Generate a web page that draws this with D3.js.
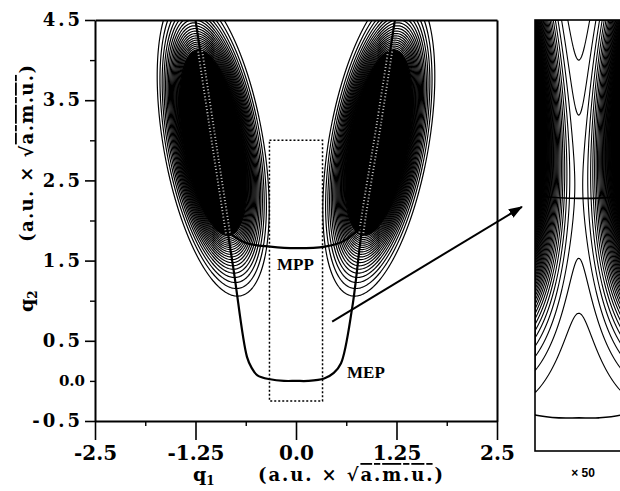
<!DOCTYPE html>
<html>
<head>
<meta charset="utf-8">
<script src="https://cdn.jsdelivr.net/npm/d3@7"></script>
<style>
body { margin: 0; background: #fff; }
svg { display: block; }
.serif { font-family: "DejaVu Serif", serif; font-weight: bold; fill: #000; }
.times { font-family: "Liberation Serif", "Times New Roman", serif; font-weight: bold; fill: #000; }
</style>
</head>
<body>
<svg class="figure" width="620" height="491"></svg>
<script>
var yTicks = [4.5, 3.5, 2.5, 1.5, 0.5, -0.5];
var yTickText = ["4.5", "3.5", "2.5", "1.5", "0.5", "-0.5"];
var yZero = [0.0];
var yMinor = [4.0, 3.0, 2.0, 1.0];
var xTicks = [-2.5, -1.25, 0.0, 1.25, 2.5];
var xTickText = ["-2.5", "-1.25", "0.0", "1.25", "2.5"];
var xMinor = [-1.875, -0.625, 0.625, 1.875];

// the two tilted wells: centre, tilt in degrees, width across and along
var lobeQ1 = [-1.03, 1.03];
var lobeQ2 = [2.97, 2.97];
var lobeTilt = [10, -10];
var lobeWidth = [0.24, 0.24];
var lobeLength = [0.752, 0.752];

var levelStart = 0.036;
var levelStep = 0.0136;
var coreLevel = 0.3;
var insetStep = 0.0005;

// paths
var mepQ1 = [-1.25, -1.02, -0.78, -0.61, -0.55, -0.48, -0.32, -0.15, 0.0, 0.15, 0.35, 0.47, 0.56, 0.70, 0.83, 1.03, 1.23];
var mepQ2 = [4.5, 2.97, 1.41, 0.30, 0.16, 0.07, 0.02, 0.0, 0.0, 0.0, 0.03, 0.10, 0.22, 0.92, 1.97, 3.2, 4.5];
var mppQ1 = [-0.82, -0.62, -0.32, 0.0, 0.36, 0.585, 0.82];
var mppQ2 = [1.84, 1.72, 1.675, 1.655, 1.675, 1.74, 1.93];

var boxQ1 = [-0.33, 0.33];
var boxQ2 = [-0.25, 3.0];
var arrowQ1 = [0.45, 2.81];
var arrowQ2 = [0.74, 2.17];

var svg = d3.select("svg.figure");

var x = d3.scaleLinear().domain([-2.5, 2.5]).range([95, 497]);
var y = d3.scaleLinear().domain([-0.5, 4.5]).range([421, 20]);

var insetTop = 20, insetBottom = 451, insetLeft = 535;
var k = (insetBottom - insetTop) / (boxQ2[1] - boxQ2[0]);
var xi = d3.scaleLinear().domain(boxQ1).range([insetLeft, insetLeft + k * (boxQ1[1] - boxQ1[0])]);
var yi = d3.scaleLinear().domain(boxQ2).range([insetBottom, insetTop]);

function density(q1, q2) {
  var s = 0;
  for (var i = 0; i < lobeQ1.length; i++) {
    var t = lobeTilt[i] * Math.PI / 180;
    var dx = q1 - lobeQ1[i];
    var dy = q2 - lobeQ2[i];
    var u = (dx * Math.cos(t) + dy * Math.sin(t)) / lobeWidth[i];
    var v = (dx * Math.sin(t) - dy * Math.cos(t)) / lobeLength[i];
    s += Math.exp(-(u * u + v * v) / 2);
  }
  return s;
}

function gridValues(xs, ys) {
  var x0 = xs.range()[0], y0 = ys.range()[1];
  var n = Math.ceil(xs.range()[1] - x0), m = Math.ceil(ys.range()[0] - y0);
  var values = new Float64Array(n * m);
  for (var j = 0; j < m; j++) {
    for (var i = 0; i < n; i++) {
      values[j * n + i] = density(xs.invert(x0 + i + 0.5), ys.invert(y0 + j + 0.5));
    }
  }
  return {n: n, m: m, x0: x0, y0: y0, values: values};
}

function contourLayer(g, grid, thresholds, fill, width) {
  var contours = d3.contours().size([grid.n, grid.m]).thresholds(thresholds)(grid.values);
  g.append("g")
  .attr("transform", "translate(" + grid.x0 + "," + grid.y0 + ")")
  .selectAll("path")
  .data(contours)
  .enter()
  .append("path")
  .attr("d", d3.geoPath())
  .attr("fill", fill)
  .attr("stroke", "#000")
  .attr("stroke-width", width);
  return contours;
}

var defs = svg.append("defs");
defs.append("clipPath").attr("id", "plotClip")
.append("rect")
.attr("x", x(-2.5)).attr("y", y(4.5))
.attr("width", x(2.5) - x(-2.5)).attr("height", y(-0.5) - y(4.5));
defs.append("clipPath").attr("id", "insetClip")
.append("rect")
.attr("x", xi(boxQ1[0])).attr("y", yi(boxQ2[1]))
.attr("width", xi(boxQ1[1]) - xi(boxQ1[0])).attr("height", yi(boxQ2[0]) - yi(boxQ2[1]));
defs.append("marker")
.attr("id", "arrowHead")
.attr("markerUnits", "userSpaceOnUse")
.attr("markerWidth", 14).attr("markerHeight", 10)
.attr("refX", 13).attr("refY", 5)
.attr("orient", "auto")
.append("path")
.attr("d", "M0,0L14,5L0,10Z")
.attr("fill", "#000");

// main contour map
var plot = svg.append("g").attr("clip-path", "url(#plotClip)");
var mainGrid = gridValues(x, y);
contourLayer(plot, mainGrid, d3.range(levelStart, coreLevel, levelStep), "none", 1.2);
var core = contourLayer(plot, mainGrid, [coreLevel], "#000", 1.2);

defs.append("clipPath").attr("id", "coreClip")
.append("path")
.attr("transform", "translate(" + mainGrid.x0 + "," + mainGrid.y0 + ")")
.attr("d", d3.geoPath()(core[0]));

var line = d3.line()
.x(function(d) { return x(d[0]); })
.y(function(d) { return y(d[1]); })
.curve(d3.curveCatmullRom);

// hatched light streak where the path crosses the dense core
plot.append("g").attr("clip-path", "url(#coreClip)")
.append("path")
.attr("d", line(d3.zip(mepQ1, mepQ2)))
.attr("fill", "none").attr("stroke", "#fff").attr("stroke-width", 6)
.attr("stroke-opacity", 0.75)
.attr("stroke-dasharray", "1,2.2");

plot.append("path")
.attr("d", line(d3.zip(mepQ1, mepQ2)))
.attr("fill", "none").attr("stroke", "#000").attr("stroke-width", 2.2);
plot.append("path")
.attr("d", line(d3.zip(mppQ1, mppQ2)))
.attr("fill", "none").attr("stroke", "#000").attr("stroke-width", 2.2);

svg.append("rect")
.attr("x", x(boxQ1[0])).attr("y", y(boxQ2[1]))
.attr("width", x(boxQ1[1]) - x(boxQ1[0])).attr("height", y(boxQ2[0]) - y(boxQ2[1]))
.attr("fill", "none").attr("stroke", "#000")
.attr("stroke-width", 1.5).attr("stroke-dasharray", "2,2");

// axes and frame
function styleAxis(g, size) {
  g.select(".domain").attr("stroke-width", 2);
  g.selectAll(".tick line").attr("stroke-width", 1.6);
  g.selectAll("text").attr("class", "serif").attr("font-size", size).attr("font-family", null);
}

svg.append("g")
.attr("transform", "translate(0," + y(-0.5) + ")")
.call(d3.axisBottom(x).tickValues(xTicks).tickSize(19).tickSizeOuter(0).tickPadding(6)
  .tickFormat(function(d, i) { return xTickText[i]; }))
.call(styleAxis, 20);

svg.append("g")
.attr("transform", "translate(0," + y(-0.5) + ")")
.call(d3.axisBottom(x).tickValues(xMinor).tickSize(5).tickFormat(""))
.call(function(g) { g.select(".domain").remove(); g.selectAll(".tick line").attr("stroke-width", 1.4); });

svg.append("g")
.attr("transform", "translate(" + x(-2.5) + ",0)")
.call(d3.axisLeft(y).tickValues(yTicks).tickSize(10).tickSizeOuter(0).tickPadding(2)
  .tickFormat(function(d, i) { return yTickText[i]; }))
.call(styleAxis, 18)
.call(function(g) { g.selectAll("text").attr("letter-spacing", 3); });

svg.append("g")
.attr("transform", "translate(" + x(-2.5) + ",0)")
.call(d3.axisLeft(y).tickValues(yZero).tickSize(5).tickPadding(5).tickFormat(function() { return "0.0"; }))
.call(function(g) {
  g.select(".domain").remove();
  g.selectAll(".tick line").attr("stroke-width", 1.4);
  g.selectAll("text").attr("class", "serif").attr("font-size", 15).attr("font-family", null);
});

svg.append("g")
.attr("transform", "translate(" + x(-2.5) + ",0)")
.call(d3.axisLeft(y).tickValues(yMinor).tickSize(5).tickFormat(""))
.call(function(g) { g.select(".domain").remove(); g.selectAll(".tick line").attr("stroke-width", 1.4); });

svg.append("g")
.attr("transform", "translate(0," + y(4.5) + ")")
.call(d3.axisTop(x).tickValues([]).tickSizeOuter(0))
.call(function(g) { g.select(".domain").attr("stroke-width", 2); });

svg.append("g")
.attr("transform", "translate(" + x(2.5) + ",0)")
.call(d3.axisRight(y).tickValues([]).tickSizeOuter(0))
.call(function(g) { g.select(".domain").attr("stroke-width", 2); });

// labels
svg.append("text").attr("class", "times").attr("font-size", 17)
.attr("x", 277).attr("y", 270).text("MPP");
svg.append("text").attr("class", "times").attr("font-size", 17)
.attr("x", 347).attr("y", 378).text("MEP");

var xTitle = svg.append("text").attr("class", "serif").attr("font-size", 19)
.attr("x", 193).attr("y", 481);
xTitle.append("tspan").text("q");
xTitle.append("tspan").attr("font-size", 12).attr("dy", 4).text("1");

var xUnits = svg.append("text").attr("class", "serif").attr("font-size", 18)
.attr("x", 258).attr("y", 481)
.attr("textLength", 185).attr("lengthAdjust", "spacing");
xUnits.append("tspan").text("(a.u. × √");
xUnits.append("tspan").style("text-decoration", "overline").text("a.m.u.");
xUnits.append("tspan").text(")");

var yTitle = svg.append("text").attr("class", "serif").attr("font-size", 19)
.attr("transform", "translate(33,312) rotate(-90)");
yTitle.append("tspan").text("q");
yTitle.append("tspan").attr("font-size", 12).attr("dy", 4).text("2");

var yUnits = svg.append("text").attr("class", "serif").attr("font-size", 18)
.attr("transform", "translate(33,242) rotate(-90)")
.attr("textLength", 177).attr("lengthAdjust", "spacing");
yUnits.append("tspan").text("(a.u. × √");
yUnits.append("tspan").style("text-decoration", "overline").text("a.m.u.");
yUnits.append("tspan").text(")");

// arrow to the magnified window
svg.append("line")
.attr("x1", x(arrowQ1[0])).attr("y1", y(arrowQ2[0]))
.attr("x2", x(arrowQ1[1])).attr("y2", y(arrowQ2[1]))
.attr("stroke", "#000").attr("stroke-width", 2)
.attr("marker-end", "url(#arrowHead)");

// inset: the dotted window with a much finer contour step
var inset = svg.append("g").attr("clip-path", "url(#insetClip)");
contourLayer(inset, gridValues(xi, yi), d3.range(insetStep, 0.06, insetStep), "none", 1.1);

var insetLine = d3.line()
.x(function(d) { return xi(d[0]); })
.y(function(d) { return yi(d[1]); })
.curve(d3.curveCatmullRom);

inset.append("path")
.attr("d", insetLine(d3.zip(mepQ1, mepQ2)))
.attr("fill", "none").attr("stroke", "#000").attr("stroke-width", 1.6);
inset.append("path")
.attr("d", insetLine(d3.zip(mppQ1, mppQ2)))
.attr("fill", "none").attr("stroke", "#000").attr("stroke-width", 1.6);

svg.append("rect")
.attr("x", xi(boxQ1[0])).attr("y", yi(boxQ2[1]))
.attr("width", xi(boxQ1[1]) - xi(boxQ1[0])).attr("height", yi(boxQ2[0]) - yi(boxQ2[1]))
.attr("fill", "none").attr("stroke", "#000").attr("stroke-width", 1.6);

svg.append("text")
.attr("x", 583).attr("y", 477)
.attr("text-anchor", "middle")
.attr("font-family", "Liberation Sans, Arial, sans-serif")
.attr("font-weight", "bold")
.attr("font-size", 12)
.text("× 50");
</script>
</body>
</html>
